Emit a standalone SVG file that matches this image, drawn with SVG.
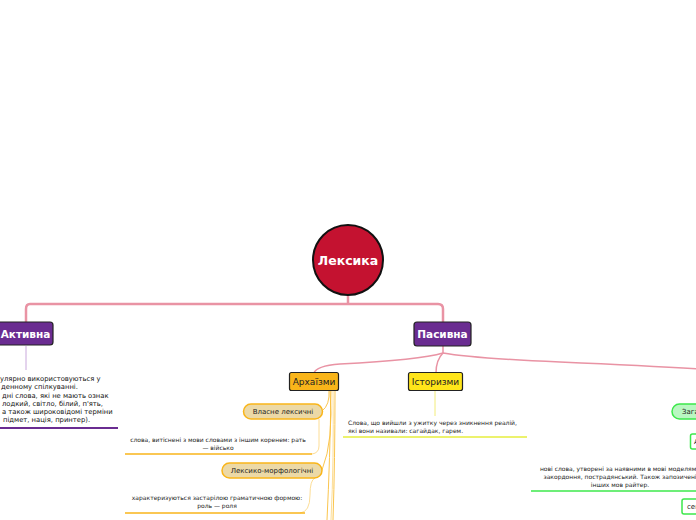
<svg xmlns="http://www.w3.org/2000/svg" width="696" height="520" viewBox="0 0 696 520">
<style>
text{font-family:"DejaVu Sans","Liberation Sans",sans-serif;}
.pink{fill:none;stroke:#e993a4;stroke-width:2.5;}
.pinkt{fill:none;stroke:#e993a4;stroke-width:1.5;}
.org{fill:none;stroke:#f9be3a;stroke-width:0.9;}
.orgl{fill:none;stroke:#fcd98a;stroke-width:0.9;}
.note{font-size:6px;fill:#222;}
.note7{font-size:6.8px;fill:#111;}
</style>
<rect width="696" height="520" fill="#fff"/>
<g id="connectors">
  <path class="pink" d="M348,295 V304 M30,304 H438 Q443,304 443,309 V322 M30,304 Q26,304 26,309 V322"/>
  <path class="pinkt" d="M443,346 V353 Q420,360 340,364 Q316,366 314,373"/>
  <path class="pinkt" d="M443,353 Q436,360 436,373"/>
  <path class="pinkt" d="M443,353 Q470,358 560,362 Q650,366 700,369"/>
  <path fill="none" stroke="#c9a8dc" stroke-width="1" d="M26,346 V370"/>
  <path fill="none" stroke="#6a2c91" stroke-width="2" d="M0,428 H118"/>
  <path fill="none" stroke="#f2ec7a" stroke-width="1" d="M435,391 V416"/>
  <path fill="none" stroke="#e6ee3c" stroke-width="1.5" d="M343,437 H527"/>
  <path class="org" d="M329,390 Q330,405 322,411"/>
  <path class="org" d="M330,390 Q334,440 322,470"/>
  <path class="org" d="M331,390 Q330,460 327,520"/>
  <path class="orgl" d="M333,390 Q334,460 331,520"/>
  <path class="org" d="M335,390 Q335,460 333,520"/>
  <path class="orgl" d="M319,419 V446 Q319,453 312,454"/>
  <path fill="none" stroke="#f9b51a" stroke-width="1.5" d="M125,454 H312"/>
  <path class="orgl" d="M315,478 Q310,480 310,495 Q310,512 300,513"/>
  <path fill="none" stroke="#f9b51a" stroke-width="1.5" d="M125,513 H305"/>
  <path fill="none" stroke="#3de84b" stroke-width="1.5" d="M531,491 H696"/>
</g>
<g id="leksyka">
  <circle cx="348" cy="260" r="35" fill="#c41230" stroke="#111" stroke-width="2"/>
  <text x="348" y="264.5" font-size="12.5" font-weight="bold" fill="#fff" text-anchor="middle">Лексика</text>
</g>
<g id="aktyvna">
  <rect x="-6" y="322" width="59" height="23" rx="3" fill="#6a2c91" stroke="#222" stroke-width="1.2"/>
  <text x="25.5" y="337.5" font-size="10.5" font-weight="bold" fill="#fff" text-anchor="middle">Активна</text>
</g>
<g id="aktyvna-note">
  <text class="note7" x="0" y="381">улярно використовуються у</text>
  <text class="note7" x="1" y="389">денному спілкуванні.</text>
  <text class="note7" x="2" y="398">дні слова, які не мають ознак</text>
  <text class="note7" x="2" y="406">лодкий, світло, білий, п'ять,</text>
  <text class="note7" x="2" y="414">а також широковідомі терміни</text>
  <text class="note7" x="3" y="422">підмет, нація, принтер).</text>
</g>
<g id="pasyvna">
  <rect x="414" y="322" width="57" height="24" rx="3" fill="#6a2c91" stroke="#222" stroke-width="1.2"/>
  <text x="442.5" y="338" font-size="10.5" font-weight="bold" fill="#fff" text-anchor="middle">Пасивна</text>
</g>
<g id="arkhaizmy">
  <rect x="289.5" y="372.5" width="49" height="18" rx="2" fill="#f9b51a" stroke="#222" stroke-width="1.2"/>
  <text x="314" y="385" font-size="9" fill="#222" text-anchor="middle">Архаїзми</text>
</g>
<g id="istoryzmy">
  <rect x="408.5" y="372.5" width="54" height="18" rx="2" fill="#ffe51a" stroke="#222" stroke-width="1.2"/>
  <text x="435.5" y="385" font-size="9" fill="#222" text-anchor="middle">Історизми</text>
</g>
<g id="istoryzmy-note">
  <text class="note" x="348" y="425">Слова, що вийшли з ужитку через зникнення реалій,</text>
  <text class="note" x="348" y="433">які вони називали: сагайдак, гарем.</text>
</g>
<g id="vlasne">
  <rect x="243.5" y="404" width="79" height="15" rx="7.5" fill="#ecd9a6" stroke="#f9b51a" stroke-width="1.5"/>
  <text x="283" y="414" font-size="7" fill="#222" text-anchor="middle">Власне лексичні</text>
</g>
<g id="vlasne-note">
  <text class="note" x="218" y="442" text-anchor="middle">слова, витіснені з мови словами з іншим коренем: рать</text>
  <text class="note" x="218" y="450" text-anchor="middle">— військо</text>
</g>
<g id="leksyko">
  <rect x="222" y="463" width="100" height="15" rx="7.5" fill="#ecd9a6" stroke="#f9b51a" stroke-width="1.5"/>
  <text x="272" y="473" font-size="7" fill="#222" text-anchor="middle">Лексико-морфологічні</text>
</g>
<g id="leksyko-note">
  <text class="note" x="217" y="500" text-anchor="middle">характеризуються застарілою граматичною формою:</text>
  <text class="note" x="217" y="508" text-anchor="middle">роль — роля</text>
</g>
<g id="zaga">
  <rect x="672" y="404" width="40" height="15" rx="7.5" fill="#b9f7c1" stroke="#3de84b" stroke-width="1.5"/>
  <text x="682" y="414" font-size="7" fill="#222">Зага</text>
</g>
<g id="small-green">
  <rect x="690.5" y="434" width="20" height="15" rx="2" fill="#fff" stroke="#3de84b" stroke-width="1.5"/>
  <text x="694" y="444" font-size="7" fill="#222">А</text>
</g>
<g id="neo-note">
  <text class="note" x="620" y="471" text-anchor="middle">нові слова, утворені за наявними в мові моделями</text>
  <text class="note" x="620" y="479" text-anchor="middle">закордоння, пострадянський. Також запозичені</text>
  <text class="note" x="620" y="487" text-anchor="middle">інших мов райтер.</text>
</g>
<g id="sem">
  <rect x="682" y="499" width="30" height="15" rx="2" fill="#fff" stroke="#3de84b" stroke-width="1.5"/>
  <text x="687" y="509" font-size="7" fill="#222">сем</text>
</g>
</svg>
